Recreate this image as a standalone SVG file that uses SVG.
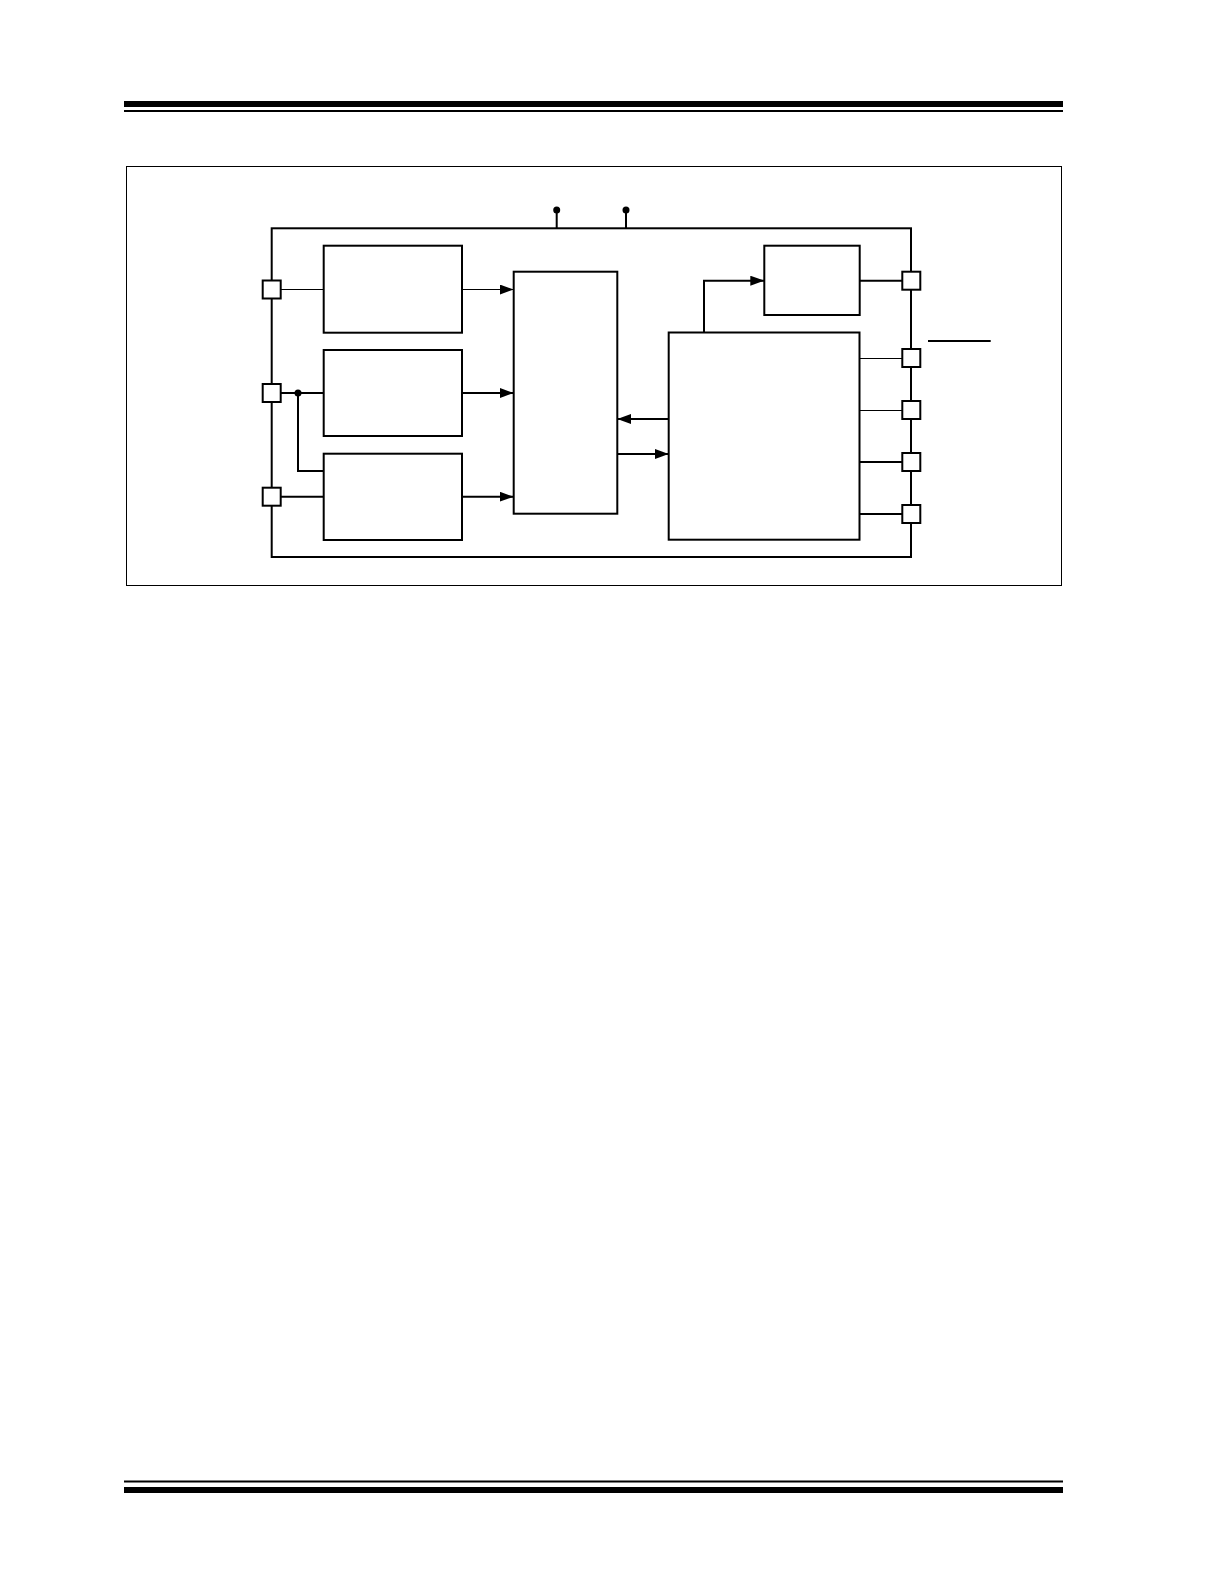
<svg xmlns="http://www.w3.org/2000/svg" width="1224" height="1584" viewBox="0 0 1224 1584">
<defs>
<style>
.blk{fill:#fff;stroke:#000;stroke-width:2}
.pin{fill:#fff;stroke:#000;stroke-width:2}
.w1{fill:none;stroke:#000;stroke-width:1}
.w2{fill:none;stroke:#000;stroke-width:2}
.dot{fill:#000}
</style>
<marker id="arr" markerUnits="userSpaceOnUse" markerWidth="14" markerHeight="10" refX="14" refY="5" orient="auto">
<path d="M0,0 L14,5 L0,10 z" fill="#000"/>
</marker>
</defs>
<rect width="1224" height="1584" fill="#fff"/>
<g id="header">
<rect x="124" y="101" width="939" height="6" fill="#000"/>
<rect x="124" y="110" width="939" height="2" fill="#000"/>
</g>
<g id="footer">
<rect x="124" y="1480.5" width="939" height="2" fill="#000"/>
<rect x="124" y="1487" width="939" height="6" fill="#000"/>
</g>
<rect id="frame" x="126.5" y="166.5" width="935" height="419" fill="none" stroke="#000" stroke-width="1"/>
<rect id="chip" x="271.7" y="228.3" width="639.3" height="328.7" fill="none" stroke="#000" stroke-width="2"/>
<g id="connectors">
<path class="w2" d="M556.7,210 V228.3 M626,210 V228.3"/>
<circle class="dot" cx="556.7" cy="210" r="3.5"/>
<circle class="dot" cx="626" cy="210" r="3.5"/>
<path class="w1" d="M280.7,289.5 H323.7"/>
<path class="w1" d="M462,289.5 H513.7" marker-end="url(#arr)"/>
<path class="w2" d="M280.7,393 H323.7"/>
<circle class="dot" cx="298" cy="393" r="3.5"/>
<path class="w2" d="M298,393 V471 H323.7"/>
<path class="w2" d="M462,393 H513.7" marker-end="url(#arr)"/>
<path class="w2" d="M280.7,496.7 H323.7"/>
<path class="w2" d="M462,496.7 H513.7" marker-end="url(#arr)"/>
<path class="w2" d="M668.7,419 H617.3" marker-end="url(#arr)"/>
<path class="w2" d="M617.3,454 H668.7" marker-end="url(#arr)"/>
<path class="w2" d="M704,332.5 V280.7 H764.3" marker-end="url(#arr)"/>
<path class="w2" d="M859.7,280.7 H902"/>
<path class="w1" d="M859.5,358.5 H902"/>
<path class="w1" d="M859.5,410.5 H902"/>
<path class="w2" d="M859.5,462 H902"/>
<path class="w2" d="M859.5,514 H902"/>
<path class="w2" d="M928,341 H990.7"/>
</g>
<g id="pins-left">
<rect class="pin" x="262.7" y="280.5" width="18" height="18"/>
<rect class="pin" x="262.7" y="384" width="18" height="18"/>
<rect class="pin" x="262.7" y="487.7" width="18" height="18"/>
</g>
<g id="pins-right">
<rect class="pin" x="902.3" y="271.7" width="18" height="18"/>
<rect class="pin" x="902.3" y="349" width="18" height="18"/>
<rect class="pin" x="902.3" y="401" width="18" height="18"/>
<rect class="pin" x="902.3" y="453" width="18" height="18"/>
<rect class="pin" x="902.3" y="505" width="18" height="18"/>
</g>
<g id="block1"><rect class="blk" x="323.7" y="245.7" width="138.3" height="87"/></g>
<g id="block2"><rect class="blk" x="323.7" y="350" width="138.3" height="86"/></g>
<g id="block3"><rect class="blk" x="323.7" y="453.7" width="138.3" height="86.3"/></g>
<g id="central"><rect class="blk" x="513.7" y="271.7" width="103.6" height="242"/></g>
<g id="topright"><rect class="blk" x="764.3" y="245.7" width="95.4" height="69.3"/></g>
<g id="bigblock"><rect class="blk" x="668.7" y="332.5" width="190.8" height="207.2"/></g>
</svg>
